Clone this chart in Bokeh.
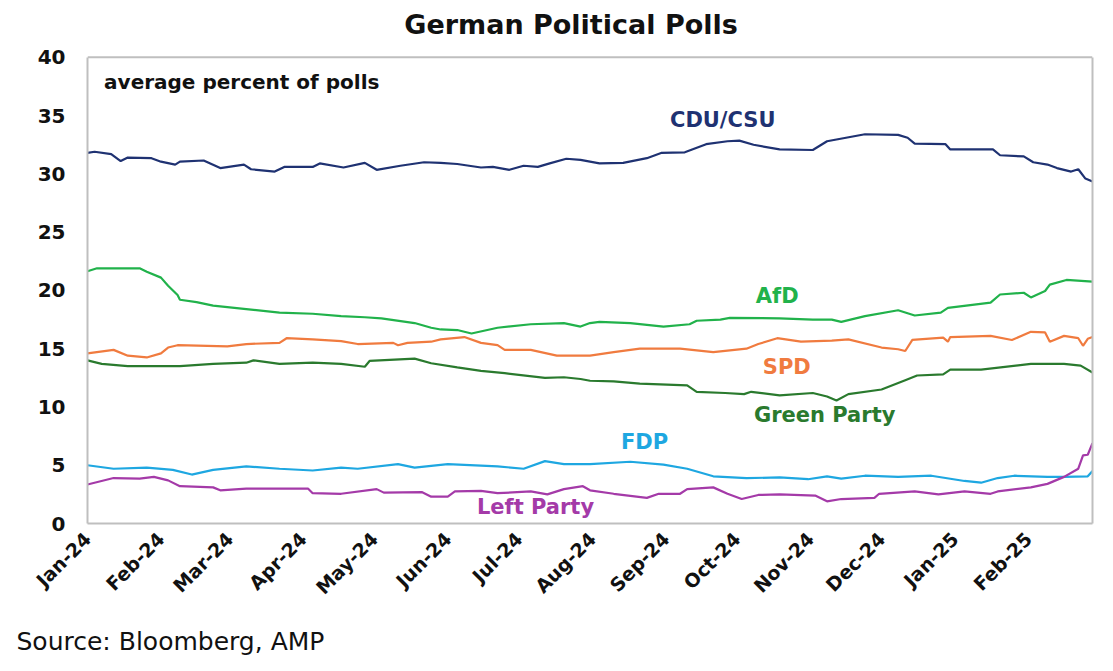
import math
import pandas as pd
from bokeh.models import (Range1d, FixedTicker, DatetimeTickFormatter, Label, Title,
                          LinearAxis, Span)
from bokeh.plotting import figure
from bokeh.embed import file_html
from bokeh.resources import INLINE

start = pd.Timestamp("2024-01-01")
end = pd.Timestamp("2025-02-28")

# days after 1 Jan 2024 and average poll percent
cdu_days = [0, 3, 10, 14, 17, 27, 31, 37, 39, 49, 56, 66, 69, 79, 83, 95, 98, 108, 117, 122,
            132, 142, 149, 156, 166, 171, 178, 184, 190, 195, 202, 208, 216, 226, 236, 242,
            252, 261, 270, 275, 281, 292, 306, 312, 320, 328, 342, 346, 349, 362, 364, 382,
            385, 395, 399, 405, 409, 415, 418, 421, 424]
cdu_vals = [31.8, 31.9, 31.7, 31.1, 31.4, 31.35, 31.05, 30.8, 31.05, 31.15, 30.5, 30.8, 30.4,
            30.2, 30.6, 30.6, 30.9, 30.55, 30.95, 30.35, 30.7, 31.0, 30.95, 30.85, 30.55, 30.6,
            30.35, 30.7, 30.6, 30.9, 31.3, 31.2, 30.9, 30.95, 31.35, 31.8, 31.85, 32.55, 32.8,
            32.85, 32.5, 32.1, 32.05, 32.8, 33.1, 33.4, 33.35, 33.1, 32.6, 32.55, 32.1, 32.1,
            31.6, 31.5, 31.0, 30.8, 30.5, 30.2, 30.4, 29.6, 29.35]

afd_days = [0, 4, 22, 25, 31, 34, 38, 39, 46, 53, 67, 81, 95, 107, 117, 124, 138, 145, 149,
            156, 162, 173, 187, 201, 208, 212, 216, 229, 243, 254, 257, 267, 271, 292, 306,
            314, 318, 328, 342, 349, 360, 363, 381, 385, 395, 398, 404, 406, 413, 424]
afd_vals = [21.65, 21.9, 21.9, 21.6, 21.1, 20.4, 19.6, 19.2, 19.0, 18.7, 18.4, 18.1, 18.0,
            17.8, 17.7, 17.6, 17.2, 16.8, 16.65, 16.6, 16.3, 16.8, 17.1, 17.2, 16.9, 17.2,
            17.3, 17.2, 16.9, 17.1, 17.4, 17.5, 17.65, 17.6, 17.5, 17.5, 17.3, 17.8, 18.3,
            17.85, 18.1, 18.5, 18.95, 19.65, 19.8, 19.4, 19.95, 20.5, 20.9, 20.75]

spd_days = [0, 11, 17, 25, 31, 34, 38, 59, 67, 81, 84, 95, 107, 114, 129, 131, 135, 145, 149,
            159, 166, 173, 176, 187, 198, 212, 222, 233, 250, 264, 278, 283, 291, 301, 314,
            321, 335, 342, 345, 348, 361, 363, 364, 381, 390, 398, 404, 406, 412, 418, 420,
            422, 424]
spd_vals = [14.6, 14.9, 14.4, 14.25, 14.6, 15.1, 15.3, 15.2, 15.4, 15.5, 15.9, 15.8, 15.65,
            15.4, 15.5, 15.3, 15.5, 15.6, 15.8, 16.0, 15.5, 15.3, 14.9, 14.9, 14.4, 14.4, 14.7,
            15.0, 15.0, 14.7, 15.0, 15.4, 15.9, 15.6, 15.7, 15.8, 15.1, 14.95, 14.8, 15.75,
            15.95, 15.6, 16.0, 16.1, 15.75, 16.45, 16.4, 15.6, 16.1, 15.9, 15.25, 15.85, 16.0]

green_days = [0, 6, 17, 39, 53, 67, 70, 81, 95, 107, 117, 119, 138, 145, 156, 166, 176, 193,
              201, 208, 212, 222, 233, 253, 257, 269, 277, 280, 292, 306, 312, 316, 321, 335,
              345, 350, 361, 364, 377, 398, 412, 419, 424]
green_vals = [14.0, 13.7, 13.5, 13.5, 13.7, 13.8, 14.0, 13.7, 13.8, 13.7, 13.45, 13.95, 14.15,
              13.75, 13.4, 13.1, 12.9, 12.5, 12.55, 12.4, 12.25, 12.2, 12.0, 11.85, 11.3, 11.2,
              11.1, 11.3, 11.0, 11.2, 10.9, 10.55, 11.1, 11.5, 12.3, 12.7, 12.8, 13.2, 13.2,
              13.7, 13.7, 13.55, 12.95]

fdp_days = [0, 11, 25, 36, 44, 53, 67, 81, 95, 107, 114, 131, 138, 152, 173, 184, 193, 201,
            212, 229, 243, 253, 264, 278, 292, 304, 312, 318, 328, 342, 356, 370, 377, 384,
            391, 405, 412, 422, 424]
fdp_vals = [5.0, 4.7, 4.8, 4.6, 4.2, 4.6, 4.9, 4.7, 4.55, 4.8, 4.7, 5.1, 4.8, 5.1, 4.9, 4.7,
            5.35, 5.1, 5.1, 5.3, 5.05, 4.7, 4.05, 3.9, 3.95, 3.8, 4.05, 3.85, 4.1, 4.0, 4.1,
            3.65, 3.5, 3.9, 4.1, 4.0, 4.0, 4.05, 4.5]

left_days = [0, 11, 22, 28, 34, 39, 53, 56, 67, 93, 95, 107, 122, 125, 141, 145, 152, 155,
             166, 173, 187, 194, 201, 209, 212, 222, 236, 241, 250, 253, 264, 270, 276, 283,
             292, 307, 312, 318, 332, 334, 349, 359, 370, 381, 384, 398, 405, 412, 418, 420,
             422, 424]
left_vals = [3.35, 3.9, 3.85, 4.0, 3.7, 3.2, 3.1, 2.85, 3.0, 3.0, 2.6, 2.55, 2.95, 2.65, 2.7,
             2.3, 2.3, 2.75, 2.8, 2.6, 2.75, 2.5, 2.95, 3.2, 2.85, 2.55, 2.2, 2.55, 2.55, 2.95,
             3.1, 2.55, 2.1, 2.45, 2.5, 2.4, 1.9, 2.1, 2.2, 2.55, 2.75, 2.5, 2.75, 2.55, 2.75,
             3.1, 3.4, 4.0, 4.7, 5.85, 5.9, 6.9]

# series: name, days, values, colour, label day, label value
series = [
    ("CDU/CSU", cdu_days, cdu_vals, "#1F3272", 268, 34.6),
    ("AfD", afd_days, afd_vals, "#21B24B", 291, 19.5),
    ("SPD", spd_days, spd_vals, "#F07B3F", 295, 13.4),
    ("Green Party", green_days, green_vals, "#2A7A2E", 311, 9.3),
    ("FDP", fdp_days, fdp_vals, "#1EA7E1", 235, 7.0),
    ("Left Party", left_days, left_vals, "#A43AA8", 189, 1.45),
]

y_ticks = [0, 5, 10, 15, 20, 25, 30, 35, 40]
months = pd.date_range("2024-01-01", "2025-02-01", freq="MS")
month_ms = [t.timestamp() * 1000 for t in months]

FONT = "DejaVu Sans"
GREY = "#BFBFBF"

# the frame runs up to the top of the canvas so the heading can sit inside it;
# the plotted box itself stops at 40
p = figure(width=1097, height=671, x_axis_type="datetime",
           x_range=Range1d(start.to_pydatetime(), end.to_pydatetime()),
           y_range=Range1d(0, 44.45),
           output_backend="svg", toolbar_location=None, title=None,
           min_border_left=87, min_border_right=5, min_border_top=5, min_border_bottom=146)

for name, days, vals, color, ld, lv in series:
    xs = [start + pd.Timedelta(days=d) for d in days]
    p.line(xs, vals, line_color=color, line_width=2.2)
    p.add_layout(Label(x=start + pd.Timedelta(days=ld), y=lv, text=name,
                       text_color=color, text_font=FONT, text_font_size="21px",
                       text_font_style="bold", text_align="center",
                       text_baseline="middle"))

p.add_layout(Label(x=start + pd.Timedelta(days=7), y=37.9, text="average percent of polls",
                   text_color="#111111", text_font=FONT, text_font_size="20px",
                   text_font_style="bold", text_align="left", text_baseline="middle"))

p.add_layout(Label(x=start + pd.Timedelta(days=204), y=42.8, text="German Political Polls",
                   text_color="#111111", text_font=FONT, text_font_size="27px",
                   text_font_style="bold", text_align="center", text_baseline="middle"))

# source note under the date axis
src = Title(text="Source: Bloomberg, AMP", align="left", text_font=FONT,
            text_font_size="25px", text_font_style="normal", text_color="#111111",
            offset=-71, standoff=31)
p.add_layout(src, "below")

# grey box round the data area
p.add_layout(Span(location=40, dimension="width", line_color=GREY, line_width=2))
right_axis = LinearAxis(ticker=FixedTicker(ticks=[]), bounds=(0, 40),
                        axis_line_color=GREY, axis_line_width=2,
                        major_tick_line_color=None, minor_tick_line_color=None)
p.add_layout(right_axis, "right")

p.grid.grid_line_color = None
p.outline_line_color = None

p.yaxis[0].ticker = FixedTicker(ticks=y_ticks)
p.yaxis[0].bounds = (0, 40)
p.xaxis.ticker = FixedTicker(ticks=month_ms)
p.xaxis.formatter = DatetimeTickFormatter(months="%b-%y", days="%b-%y", years="%b-%y")
p.xaxis.major_label_orientation = math.pi / 4

for ax in (p.xaxis[0], p.yaxis[0]):
    ax.axis_line_color = GREY
    ax.axis_line_width = 2
    ax.major_tick_line_color = None
    ax.minor_tick_line_color = None
    ax.major_tick_out = 0
    ax.major_label_text_font = FONT
    ax.major_label_text_font_style = "bold"
    ax.major_label_text_color = "#111111"

p.yaxis[0].major_label_text_font_size = "20px"
p.xaxis[0].major_label_text_font_size = "19px"
p.yaxis[0].major_label_standoff = 22
p.xaxis[0].major_label_standoff = 12

open("out.html", "w").write(file_html(p, INLINE))
